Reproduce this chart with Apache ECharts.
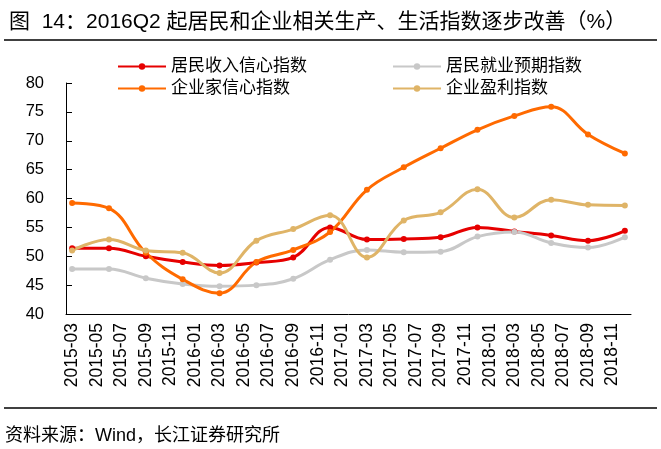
<!DOCTYPE html>
<html><head><meta charset="utf-8">
<script src="https://cdn.jsdelivr.net/npm/echarts@6/dist/echarts.min.js"></script>
<style>html,body{margin:0;padding:0;background:#fff}#c{width:661px;height:449px}</style>
</head><body><div id="c"></div>
<script>
// Monthly category axis (labels shown every 2 months)
const months = [
 '2015-03','2015-04','2015-05','2015-06','2015-07','2015-08','2015-09','2015-10','2015-11','2015-12',
 '2016-01','2016-02','2016-03','2016-04','2016-05','2016-06','2016-07','2016-08','2016-09','2016-10','2016-11','2016-12',
 '2017-01','2017-02','2017-03','2017-04','2017-05','2017-06','2017-07','2017-08','2017-09','2017-10','2017-11','2017-12',
 '2018-01','2018-02','2018-03','2018-04','2018-05','2018-06','2018-07','2018-08','2018-09','2018-10','2018-11','2018-12'
];
// Quarterly observation dates
const quarters = ['2015-03','2015-06','2015-09','2015-12','2016-03','2016-06','2016-09','2016-12',
                  '2017-03','2017-06','2017-09','2017-12','2018-03','2018-06','2018-09','2018-12'];
const incomeConfidence = [51.4, 51.4, 50.0, 49.0, 48.4, 48.9, 49.8, 55.0, 52.9, 53.0, 53.3, 55.0, 54.3, 53.6, 52.7, 54.4];
const employmentExpect = [47.8, 47.8, 46.2, 45.2, 44.8, 45.0, 46.1, 49.4, 51.1, 50.7, 50.8, 53.4, 54.2, 52.3, 51.5, 53.3];
const entrepreneurConf = [59.2, 58.3, 50.6, 46.0, 43.6, 49.0, 51.1, 54.2, 61.5, 65.4, 68.7, 71.9, 74.3, 75.9, 71.1, 67.8];
const profitIndex      = [51.0, 52.9, 51.0, 50.6, 47.1, 52.7, 54.7, 57.1, 49.8, 56.2, 57.6, 61.6, 56.7, 59.8, 58.9, 58.8];
const seriesNames = ['居民收入信心指数','居民就业预期指数','企业家信心指数','企业盈利指数'];
const yTicks = {min: 40, max: 80, interval: 5};

const FONT = '"Liberation Sans", Arial, "Noto Sans CJK SC", sans-serif';
const colors = ['#E60000', '#C8C8C8', '#FF6A00', '#DFB467'];
const allValues = [incomeConfidence, employmentExpect, entrepreneurConf, profitIndex];

const chart = echarts.init(document.getElementById('c'));
chart.setOption({
  animation: false,
  backgroundColor: '#fff',
  textStyle: {fontFamily: FONT},
  title: {
    text: '图  14：2016Q2 起居民和企业相关生产、生活指数逐步改善（%）',
    left: 4, top: 7,
    textStyle: {fontFamily: FONT, fontSize: 21, fontWeight: 'normal', color: '#000'}
  },
  graphic: [
    {type: 'line', shape: {x1: 4, y1: 40, x2: 657, y2: 40}, style: {stroke: '#000', lineWidth: 1.5}},
    {type: 'line', shape: {x1: 4, y1: 408, x2: 657, y2: 408}, style: {stroke: '#000', lineWidth: 1.5}},
    {type: 'text', left: 5, top: 427, style: {text: '资料来源：Wind，长江证券研究所', font: '18px ' + FONT, fill: '#000'}}
  ],
  legend: [
    {left: 112, top: 53, orient: 'vertical', itemGap: 5, itemWidth: 48, itemHeight: 8,
     data: [seriesNames[0], seriesNames[2]],
     textStyle: {fontFamily: FONT, fontSize: 17, color: '#000'}},
    {left: 387, top: 53, orient: 'vertical', itemGap: 5, itemWidth: 48, itemHeight: 8,
     data: [seriesNames[1], seriesNames[3]],
     textStyle: {fontFamily: FONT, fontSize: 17, color: '#000'}}
  ],
  grid: {left: 66, right: 30, top: 83, bottom: 135, containLabel: false},
  xAxis: {
    type: 'category', data: months, boundaryGap: true,
    axisLine: {lineStyle: {color: '#000', width: 1}},
    axisTick: {inside: true, length: 4, interval: 1, lineStyle: {color: '#000'}},
    axisLabel: {interval: 1, rotate: 90, margin: 9, fontSize: 17.5, color: '#000', fontFamily: FONT},
    splitLine: {show: false}
  },
  yAxis: {
    type: 'value', min: yTicks.min, max: yTicks.max, interval: yTicks.interval,
    axisLine: {show: true, lineStyle: {color: '#000', width: 1}},
    axisTick: {show: true, inside: true, length: 6, lineStyle: {color: '#000'}},
    axisLabel: {margin: 22, fontSize: 16.5, color: '#000', fontFamily: FONT},
    splitLine: {show: false}
  },
  series: seriesNames.map((name, k) => ({
    name, type: 'line', smooth: 0.4,
    data: quarters.map((q, i) => [q, allValues[k][i]]),
    symbol: 'circle', symbolSize: 6,
    lineStyle: {width: 3, color: colors[k]},
    itemStyle: {color: colors[k]}
  }))
});
</script></body></html>
